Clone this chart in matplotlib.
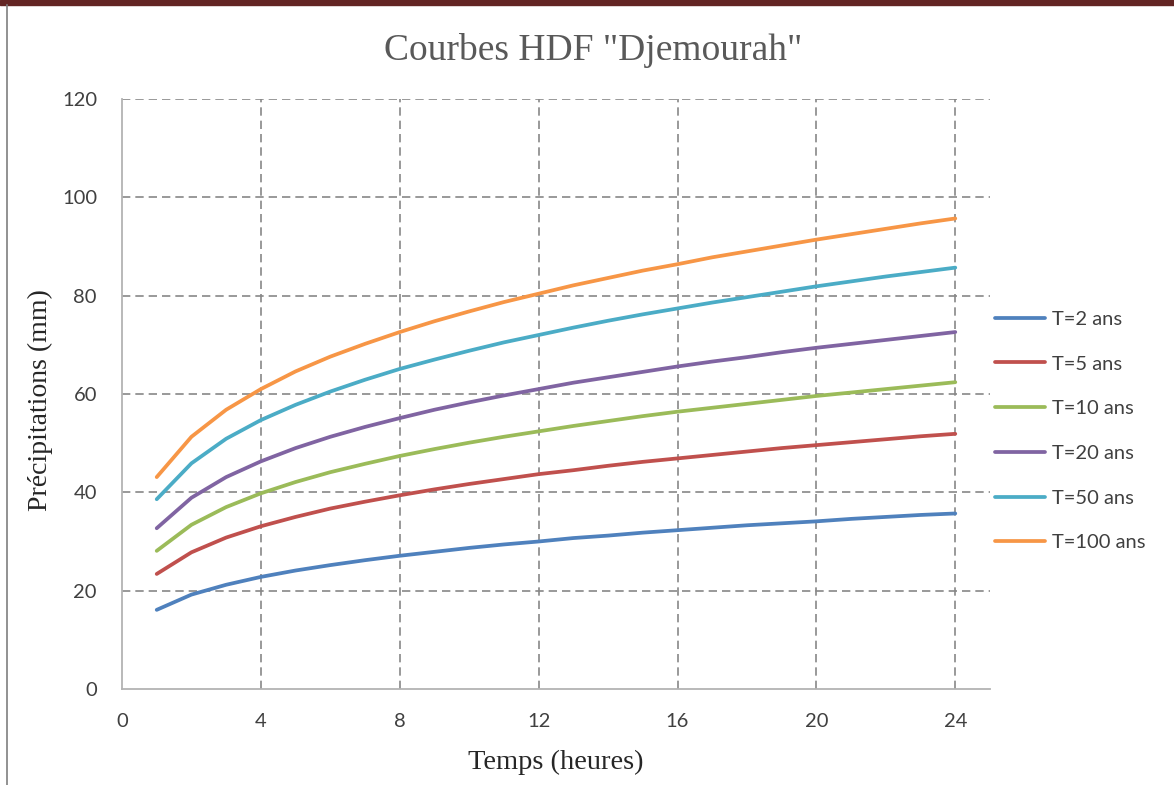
import matplotlib
matplotlib.use("Agg")
import matplotlib.pyplot as plt
from matplotlib.lines import Line2D
from matplotlib.patches import Rectangle

hours = list(range(1, 25))
t2 = [16.1, 19.2, 21.2, 22.8, 24.1, 25.2, 26.2, 27.1, 27.9, 28.7, 29.4, 30.0,
      30.7, 31.2, 31.8, 32.3, 32.8, 33.3, 33.7, 34.1, 34.6, 35.0, 35.4, 35.7]
t5 = [23.4, 27.8, 30.8, 33.1, 35.0, 36.7, 38.1, 39.4, 40.6, 41.7, 42.7, 43.7,
      44.5, 45.4, 46.2, 46.9, 47.6, 48.3, 49.0, 49.6, 50.2, 50.8, 51.4, 51.9]
t10 = [28.1, 33.4, 37.0, 39.8, 42.1, 44.1, 45.8, 47.4, 48.8, 50.1, 51.3, 52.4,
       53.5, 54.5, 55.5, 56.4, 57.2, 58.0, 58.8, 59.6, 60.3, 61.0, 61.7, 62.4]
t20 = [32.7, 38.9, 43.1, 46.3, 49.0, 51.3, 53.3, 55.1, 56.8, 58.3, 59.7, 61.0,
       62.3, 63.4, 64.5, 65.6, 66.6, 67.5, 68.5, 69.4, 70.2, 71.0, 71.8, 72.6]
t50 = [38.6, 45.9, 50.9, 54.7, 57.8, 60.5, 62.9, 65.1, 67.0, 68.8, 70.5, 72.0,
       73.5, 74.9, 76.2, 77.4, 78.6, 79.7, 80.8, 81.9, 82.9, 83.9, 84.8, 85.7]
t100 = [43.1, 51.3, 56.8, 61.0, 64.6, 67.6, 70.2, 72.6, 74.8, 76.8, 78.7, 80.4,
        82.1, 83.6, 85.1, 86.4, 87.8, 89.0, 90.2, 91.4, 92.5, 93.6, 94.7, 95.7]

series = [("T=2 ans", t2), ("T=5 ans", t5), ("T=10 ans", t10),
          ("T=20 ans", t20), ("T=50 ans", t50), ("T=100 ans", t100)]
colors = ["#4F81BD", "#C0504D", "#9BBB59", "#8064A2", "#4BACC6", "#F79646"]
xticks = [0, 4, 8, 12, 16, 20, 24]
yticks = [0, 20, 40, 60, 80, 100, 120]

W, H = 1174, 785
fig = plt.figure(figsize=(W / 100, H / 100), dpi=100)
fig.patch.set_facecolor("white")

# frame decorations
fig.add_artist(Rectangle((0, 1 - 5 / H), 1, 5 / H, transform=fig.transFigure,
                         color="#632523", zorder=0))
fig.add_artist(Line2D([7 / W, 7 / W], [0, 1 - 5 / H], transform=fig.transFigure,
                      color="#7f7f7f", lw=1.2))

ax = fig.add_axes([122 / W, 1 - 689 / H, (990 - 122) / W, (689 - 99) / H])
for (lab, vals), c in zip(series, colors):
    ax.plot(hours, vals, color=c, lw=2.7, label=lab, solid_capstyle="round")

ax.set_xlim(0, 25)
ax.set_ylim(0, 120)
ax.set_xticks(xticks)
ax.set_yticks(yticks)
tick_font = "Lato"
for lbl in ax.get_xticklabels() + ax.get_yticklabels():
    lbl.set_fontfamily(tick_font)
ax.tick_params(axis="both", length=0, labelsize=14.5, colors="#404040")
ax.tick_params(axis="x", pad=17)
ax.tick_params(axis="y", pad=18)

gcol = "#878787"
for y in yticks[1:]:
    ax.axhline(y, color=gcol, lw=1.2, ls=(0, (5, 3)), zorder=0)
for x in xticks[1:]:
    ax.axvline(x, color=gcol, lw=1.2, ls=(0, (5, 3)), zorder=0)

for s in ["top", "right"]:
    ax.spines[s].set_visible(False)
for s in ["left", "bottom"]:
    ax.spines[s].set_color("#B3B3B3")
    ax.spines[s].set_linewidth(1.3)

fig.text(593 / W, 1 - 50 / H, 'Courbes HDF "Djemourah"', ha="center", va="center",
         fontsize=27, family="Liberation Serif", color="#595959")
fig.text(556 / W, 1 - 762 / H, "Temps (heures)", ha="center", va="center",
         fontsize=20.5, family="Liberation Serif", color="#262626")
fig.text(40 / W, 1 - 400 / H, "Précipitations (mm)", ha="center", va="center",
         rotation=90, fontsize=20, family="Liberation Serif", color="#262626")

leg = fig.legend(loc="center left", bbox_to_anchor=(995 / W, 1 - 431 / H),
                 frameon=False, prop={"family": tick_font, "size": 14.5},
                 handlelength=2.5, labelspacing=1.37, handletextpad=0.35,
                 borderpad=0, borderaxespad=0)
for t in leg.get_texts():
    t.set_color("#404040")

fig.savefig("out.png", dpi=100)
